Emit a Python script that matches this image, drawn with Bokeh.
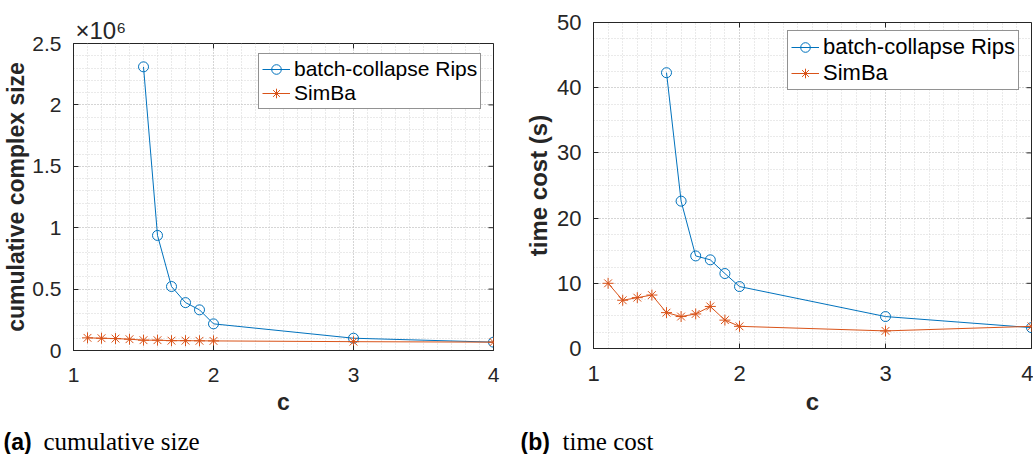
from bokeh.plotting import figure
from bokeh.layouts import row, column
from bokeh.models import Label, LinearAxis, SingleIntervalTicker, Range1d, Grid
from bokeh.embed import file_html
from bokeh.resources import INLINE

# ---------------- data ----------------
c_rips = [1.5, 1.6, 1.7, 1.8, 1.9, 2.0, 3.0, 4.0]
c_simba = [1.1, 1.2, 1.3, 1.4, 1.5, 1.6, 1.7, 1.8, 1.9, 2.0, 3.0, 4.0]

size_rips = [2310000, 937000, 521000, 390000, 331000, 217000, 100000, 68000]
size_simba = [103000, 100000, 97000, 92000, 84000, 84000, 80000, 80000, 79000, 78000, 72000, 68000]

time_rips = [42.3, 22.6, 14.2, 13.6, 11.5, 9.5, 4.9, 3.2]
time_simba = [10.0, 7.4, 7.8, 8.2, 5.5, 4.9, 5.3, 6.45, 4.35, 3.4, 2.7, 3.4]

x_ticks = [1, 2, 3, 4]
size_ticks = [0, 500000, 1000000, 1500000, 2000000, 2500000]
size_tick_labels = ["0", "0.5", "1", "1.5", "2", "2.5"]
time_ticks = [0, 10, 20, 30, 40, 50]

series_names = ["batch-collapse Rips", "SimBa"]
captions = [("(a)", "cumulative size"), ("(b)", "time cost")]
y_titles = ["cumulative complex size", "time cost (s)"]
x_title = "c"
exponent_text = "×10⁶"

BLUE = "#0072BD"
ORANGE = "#D95319"
AX = "#262626"
FONT = "Liberation Sans"


def make_fig(width, height, mb, y_end, y_interval, y_minor, y_tick_list, simba, rips, fs,
             legend_loc, y_title, ylab_standoff, title_text):
    p = figure(width=width, height=height, output_backend="svg", toolbar_location=None,
               x_range=Range1d(1, 4), y_range=Range1d(0, y_end),
               min_border_left=mb[0], min_border_right=mb[1],
               min_border_top=mb[2], min_border_bottom=mb[3],
               x_axis_type=None, y_axis_type=None, title=title_text)
    p.background_fill_color = "white"
    p.border_fill_color = "white"
    p.outline_line_color = AX
    p.outline_line_width = 1
    p.outline_line_alpha = 1

    xt = SingleIntervalTicker(interval=1, num_minor_ticks=10)
    yt = SingleIntervalTicker(interval=y_interval, num_minor_ticks=y_minor)

    def style_axis(ax):
        ax.major_tick_in = 5
        ax.major_tick_out = 0
        ax.major_tick_line_color = AX
        ax.minor_tick_line_color = None
        ax.axis_line_color = AX
        ax.major_label_text_font = FONT
        ax.major_label_text_font_size = f"{fs}px"
        ax.major_label_text_color = AX
        ax.axis_label_text_font = FONT
        ax.axis_label_text_font_style = "bold"
        ax.axis_label_text_font_size = f"{fs + 2}px"
        ax.axis_label_text_color = AX

    xb = LinearAxis(ticker=xt, axis_label=x_title)
    style_axis(xb)
    xb.major_label_standoff = 13
    xb.axis_label_standoff = 4
    p.add_layout(xb, "below")
    yl = LinearAxis(ticker=yt, axis_label=y_title)
    style_axis(yl)
    yl.major_label_standoff = 8
    yl.axis_label_standoff = ylab_standoff
    p.add_layout(yl, "left")

    for dim, tk in ((0, xt), (1, yt)):
        g = Grid(dimension=dim, ticker=tk)
        g.grid_line_color = "#c0c0c0"
        g.grid_line_dash = "1 2"
        g.grid_line_width = 1
        g.minor_grid_line_color = "#d4d4d4"
        g.minor_grid_line_dash = "1 2"
        g.minor_grid_line_width = 1
        p.add_layout(g, "center")

    # tick marks on the top and right edges of the box (MATLAB "box on")
    p.ray(x=x_ticks, y=[y_end] * len(x_ticks), length=5, length_units="screen",
          angle=-90, angle_units="deg", line_color=AX, line_width=1)
    p.ray(x=[x_ticks[-1]] * len(y_tick_list), y=y_tick_list, length=5, length_units="screen",
          angle=180, angle_units="deg", line_color=AX, line_width=1)

    p.line(c_rips, rips, line_color=BLUE, line_width=1, legend_label=series_names[0])
    p.scatter(c_rips, rips, marker="circle", size=10, fill_color=None, line_color=BLUE,
              line_width=1, legend_label=series_names[0])
    p.line(c_simba, simba, line_color=ORANGE, line_width=1, legend_label=series_names[1])
    p.scatter(c_simba, simba, marker="asterisk", size=11, line_color=ORANGE, line_width=1,
              legend_label=series_names[1])

    lg = p.legend[0]
    lg.location = legend_loc
    lg.border_line_color = AX
    lg.border_line_width = 1
    lg.background_fill_color = "white"
    lg.background_fill_alpha = 1
    lg.label_text_font = FONT
    lg.label_text_font_size = f"{fs}px"
    lg.label_text_color = "black"
    lg.glyph_width = 28
    lg.glyph_height = 24
    lg.label_height = 24
    lg.label_standoff = 4
    lg.padding = 3
    lg.spacing = 0
    lg.margin = 0
    return p


# left chart: frame x 73..493, y 43..350
p1 = make_fig(518, 420, (73, 25, 43, 70), 2.5e6, 500000, 5, size_ticks, size_simba, size_rips,
              21, (185, 241), y_titles[0], 0, exponent_text)
p1.yaxis[0].major_label_overrides = {t: l for t, l in zip(size_ticks, size_tick_labels)}
p1.title.align = "left"
p1.title.offset = 2
p1.title.standoff = 0
p1.title.text_font = FONT
p1.title.text_font_style = "normal"
p1.title.text_font_size = "24px"
p1.title.text_color = AX

# right chart: frame x 593..1031, y 22..348
p2 = make_fig(515, 420, (75, 2, 22, 72), 50, 10, 4, time_ticks, time_simba, time_rips,
              22, (194, 258), y_titles[1], 2, None)


def caption_fig(width, idx, x0, x1, yb):
    c = figure(width=width, height=34, output_backend="svg", toolbar_location=None,
               x_range=Range1d(0, 1), y_range=Range1d(0, 1), x_axis_type=None,
               y_axis_type=None, min_border_left=0, min_border_right=0, min_border_top=0,
               min_border_bottom=0, title=None)
    c.outline_line_color = None
    c.background_fill_color = "white"
    c.border_fill_color = "white"
    c.add_layout(Label(x=x0, y=yb, x_units="screen", y_units="screen", text=captions[idx][0],
                       text_align="left", text_baseline="alphabetic", text_font=FONT,
                       text_font_style="bold", text_font_size="23px", text_color="black"))
    c.add_layout(Label(x=x1, y=yb, x_units="screen", y_units="screen", text=captions[idx][1],
                       text_align="left", text_baseline="alphabetic",
                       text_font="Liberation Serif", text_font_size="25px",
                       text_color="black"))
    return c


cap1 = caption_fig(518, 0, 3, 43, 13)
cap2 = caption_fig(515, 1, 2, 44, 13)

layout = column(row(column(p1), column(p2)), row(cap1, cap2))
open("out.html", "w").write(file_html(layout, INLINE))
